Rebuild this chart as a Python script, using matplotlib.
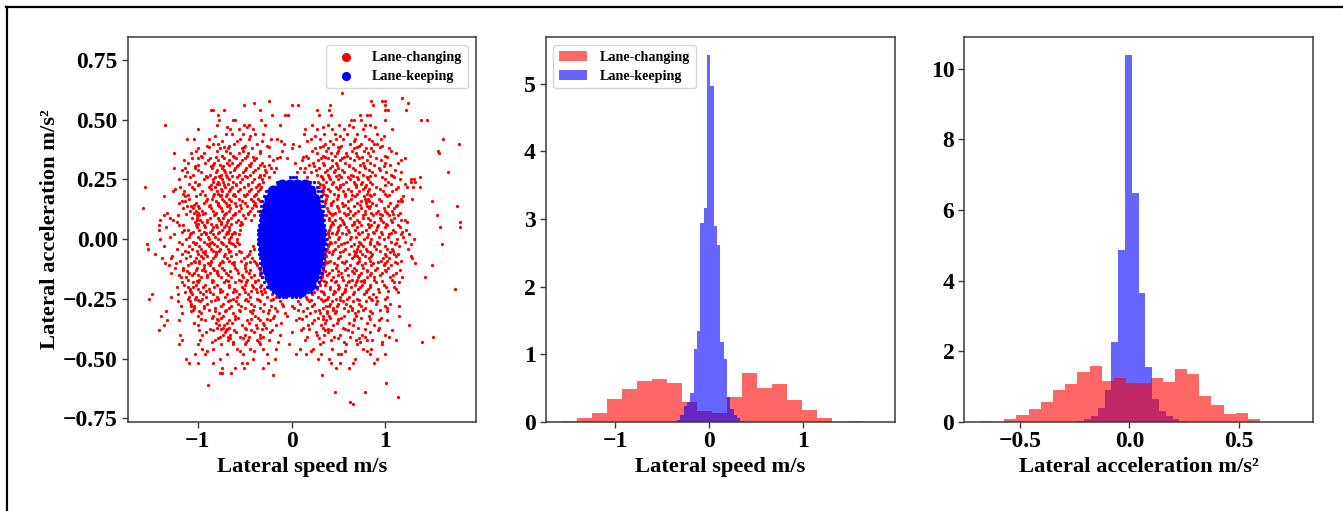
import matplotlib
matplotlib.use("Agg")
import matplotlib.pyplot as plt
import numpy as np
from matplotlib.lines import Line2D

plt.rcParams['font.family'] = ['Liberation Serif', 'DejaVu Serif']
plt.rcParams['font.weight'] = 'bold'
plt.rcParams['axes.labelweight'] = 'bold'

W, H = 1343, 511

# lane-changing scatter, read row by row: one acceleration value, its speeds
lc_y = [0.58, 0.56, 0.54, 0.52, 0.50, 0.48, 0.46, 0.44, 0.42, 0.40, 0.38, 0.36, 0.34, 0.32, 0.30,
        0.28, 0.26, 0.24, 0.22, 0.20, 0.18, 0.16, 0.14, 0.12, 0.10, 0.08, 0.06, 0.04, 0.02, 0.00,
        -0.02, -0.04, -0.06, -0.08, -0.10, -0.12, -0.14, -0.16, -0.18, -0.20, -0.22, -0.24, -0.26, -0.28, -0.30,
        -0.32, -0.34, -0.36, -0.38, -0.40, -0.42, -0.44, -0.46, -0.48, -0.50, -0.52, -0.54]
lc_x = [
    [-0.24, 0.85, 0.96, 0.99],
    [-0.51, 0.01, 0.07, 0.41, 0.87, 1.0],
    [-0.86, -0.83, -0.72, -0.34, 0.27, 0.40, 0.99, 1.03],
    [-0.78, -0.21, -0.07, -0.04, 0.29, 0.42, 0.73, 0.80, 0.84],
    [-0.77, -0.62, -0.60, -0.32, 0.63, 0.67, 0.74, 1.0],
    [-0.79, -0.51, -0.45, -0.28, -0.12, 0.22, 0.39, 0.51, 0.61, 0.78, 0.83],
    [-0.99, -0.65, -0.56, -0.41, 0.14, 0.27, 0.43, 0.56, 0.76, 1.07],
    [-0.70, -0.63, -0.52, -0.39, -0.30, 0.13, 0.35, 0.46, 0.59, 0.70, 0.91],
    [-1.11, -1.04, -0.88, -0.55, -0.45, -0.22, -0.15, 0.21, 0.30, 0.47, 0.55, 0.68, 0.82, 0.95],
    [-0.84, -0.78, -0.61, -0.37, -0.08, 0.02, 0.36, 0.44, 0.62, 0.74, 0.88, 0.91],
    [-0.99, -0.76, -0.68, -0.53, -0.42, 0.00, 0.25, 0.39, 0.51, 0.66, 0.79, 0.85, 1.04],
    [-1.25, -1.07, -0.93, -0.65, -0.56, -0.46, -0.34, 0.27, 0.42, 0.48, 0.58, 0.69, 0.81, 1.11],
    [-1.06, -1.0, -0.87, -0.72, -0.59, -0.50, -0.38, -0.15, -0.05, 0.18, 0.31, 0.39, 0.54, 0.62, 0.72, 0.90, 1.21],
    [-1.10, -0.92, -0.82, -0.69, -0.63, -0.55, -0.43, -0.31, 0.04, 0.23, 0.33, 0.47, 0.57, 0.76, 0.83, 1.0, 1.13],
    [-1.25, -1.13, -1.03, -0.85, -0.74, -0.60, -0.48, -0.36, -0.22, -0.16, 0.09, 0.14, 0.29, 0.41, 0.50, 0.65, 0.78, 0.93],
    [-1.11, -0.96, -0.80, -0.71, -0.65, -0.52, -0.41, -0.27, -0.19, 0.06, 0.13, 0.21, 0.36, 0.45, 0.56, 0.72, 0.86, 1.01, 1.17],
    [-1.08, -0.90, -0.81, -0.76, -0.69, -0.58, -0.47, -0.35, -0.24, 0.17, 0.32, 0.40, 0.53, 0.60, 0.70, 0.80, 0.96, 1.09, 1.37],
    [-1.03, -0.84, -0.78, -0.73, -0.62, -0.55, -0.42, -0.30, 0.28, 0.37, 0.44, 0.58, 0.66, 0.75, 0.83, 1.03, 1.27, 1.31],
    [-1.19, -1.06, -0.88, -0.81, -0.71, -0.63, -0.51, -0.38, -0.32, 0.29, 0.35, 0.47, 0.52, 0.69, 0.78, 0.90, 1.13, 1.23, 1.37],
    [-1.26, -1.14, -0.95, -0.79, -0.74, -0.66, -0.57, -0.45, -0.36, 0.33, 0.41, 0.55, 0.63, 0.72, 0.81, 0.97, 1.07],
    [-1.36, -1.13, -1.02, -0.83, -0.76, -0.70, -0.60, -0.49, -0.40, 0.31, 0.38, 0.50, 0.57, 0.68, 0.77, 0.85, 1.02, 1.19],
    [-1.17, -1.13, -0.91, -0.80, -0.72, -0.64, -0.53, -0.41, -0.34, 0.36, 0.44, 0.60, 0.74, 0.79, 0.82, 0.95, 1.13, 1.17, 1.18],
    [-1.11, -1.07, -1.0, -0.88, -0.77, -0.69, -0.59, -0.47, -0.38, 0.35, 0.48, 0.55, 0.66, 0.80, 0.84, 1.03, 1.11],
    [-1.08, -1.02, -0.95, -0.84, -0.74, -0.67, -0.56, -0.44, -0.36, 0.39, 0.51, 0.62, 0.71, 0.78, 0.92, 1.0, 1.07],
    [-1.36, -1.21, -1.01, -0.98, -0.82, -0.72, -0.62, -0.52, -0.40, 0.37, 0.43, 0.58, 0.65, 0.76, 0.87, 0.96, 1.04, 1.13],
    [-1.40, -1.26, -1.01, -0.97, -0.90, -0.77, -0.68, -0.57, -0.43, 0.40, 0.46, 0.54, 0.70, 0.83, 0.95, 1.06, 1.17, 1.21],
    [-1.41, -1.20, -1.15, -1.02, -0.93, -0.80, -0.70, -0.55, 0.42, 0.52, 0.64, 0.74, 0.85, 0.92, 1.02, 1.13],
    [-1.41, -1.14, -1.10, -0.98, -0.85, -0.74, -0.66, -0.55, 0.40, 0.49, 0.60, 0.68, 0.79, 0.90, 1.08, 1.22],
    [-1.25, -1.08, -0.96, -0.91, -0.83, -0.70, -0.63, -0.56, 0.39, 0.47, 0.58, 0.72, 0.81, 0.96, 1.04, 1.16, 1.25],
    [-1.40, -1.12, -0.97, -0.88, -0.78, -0.66, -0.58, 0.38, 0.50, 0.62, 0.77, 0.85, 0.98, 1.12, 1.30],
    [-1.54, -1.17, -1.03, -0.90, -0.82, -0.73, -0.62, -0.56, 0.40, 0.53, 0.66, 0.74, 0.83, 0.93, 1.10, 1.27],
    [-1.53, -1.22, -1.06, -0.96, -0.86, -0.76, -0.68, -0.40, 0.38, 0.46, 0.57, 0.70, 0.79, 0.90, 1.02, 1.07, 1.24],
    [-1.45, -1.16, -0.99, -0.92, -0.80, -0.71, -0.59, -0.45, 0.36, 0.43, 0.61, 0.68, 0.75, 0.86, 1.0, 1.09, 1.13],
    [-1.38, -1.28, -1.12, -1.02, -0.94, -0.83, -0.69, -0.51, -0.42, 0.35, 0.50, 0.64, 0.72, 0.82, 0.97, 1.04, 1.28],
    [-1.35, -1.23, -1.07, -0.98, -0.89, -0.76, -0.63, -0.48, -0.38, 0.37, 0.45, 0.56, 0.70, 0.78, 0.87, 1.0, 1.12, 1.31],
    [-1.24, -1.15, -1.01, -0.93, -0.84, -0.74, -0.60, -0.50, -0.35, 0.34, 0.47, 0.59, 0.67, 0.76, 0.91, 1.03],
    [-1.28, -1.09, -1.04, -0.87, -0.79, -0.70, -0.57, -0.45, -0.33, 0.30, 0.40, 0.53, 0.66, 0.74, 0.85, 0.96, 1.11],
    [-1.18, -1.12, -0.96, -0.90, -0.75, -0.64, -0.52, -0.43, -0.31, 0.32, 0.44, 0.54, 0.71, 0.80, 0.88, 1.05, 1.18, 1.42],
    [-1.17, -1.05, -0.99, -0.85, -0.72, -0.60, -0.48, -0.39, 0.29, 0.37, 0.46, 0.60, 0.69, 0.77, 0.90, 1.09, 1.14],
    [-1.22, -1.10, -1.05, -0.94, -0.82, -0.66, -0.53, -0.41, -0.33, 0.26, 0.41, 0.51, 0.63, 0.73, 0.84, 1.01, 1.09],
    [-1.13, -1.07, -0.97, -0.87, -0.76, -0.62, -0.49, -0.37, -0.28, 0.24, 0.34, 0.46, 0.56, 0.67, 0.79, 0.93, 1.13],
    [-1.28, -1.09, -1.02, -0.91, -0.79, -0.71, -0.58, -0.44, -0.26, -0.17, 0.15, 0.28, 0.39, 0.52, 0.61, 0.82, 0.90, 1.02],
    [-1.21, -1.08, -0.97, -0.86, -0.68, -0.59, -0.46, -0.34, -0.12, 0.07, 0.19, 0.33, 0.43, 0.55, 0.65, 0.79, 0.91],
    [-1.18, -1.07, -1.04, -0.93, -0.75, -0.64, -0.54, -0.40, -0.22, -0.09, 0.01, 0.22, 0.37, 0.40, 0.48, 0.62, 0.74, 1.0, 1.14],
    [-1.34, -1.07, -0.98, -0.81, -0.71, -0.55, -0.44, -0.30, -0.15, 0.12, 0.25, 0.38, 0.47, 0.60, 0.71, 0.84, 1.02],
    [-1.39, -1.00, -0.84, -0.73, -0.60, -0.39, -0.19, -0.05, 0.15, 0.33, 0.40, 0.56, 0.69, 0.82, 1.14],
    [-1.32, -1.20, -0.92, -0.78, -0.66, -0.47, -0.33, -0.23, 0.05, 0.24, 0.37, 0.50, 0.66, 0.93, 1.02],
    [-1.36, -1.00, -0.77, -0.72, -0.53, -0.38, -0.29, -0.16, 0.18, 0.31, 0.44, 0.65, 0.88, 1.25],
    [-1.41, -0.98, -0.84, -0.70, -0.61, -0.43, -0.21, 0.10, 0.36, 0.42, 0.60, 0.92, 1.07],
    [-1.19, -0.95, -0.73, -0.65, -0.50, -0.34, -0.12, 0.27, 0.35, 0.52, 0.75, 1.0],
    [-1.16, -0.97, -0.81, -0.68, -0.46, -0.37, -0.24, 0.14, 0.42, 0.69, 0.80, 0.86, 1.11],
    [-1.20, -0.99, -0.75, -0.62, -0.50, -0.33, -0.03, 0.30, 0.58, 0.70, 0.96],
    [-0.95, -0.83, -0.58, -0.44, -0.30, -0.16, 0.09, 0.23, 0.43, 0.76, 0.85],
    [-1.03, -0.92, -0.69, -0.52, -0.26, 0.05, 0.15, 0.31, 0.49, 0.53, 0.84, 0.99],
    [-1.12, -0.76, -0.41, -0.18, 0.28, 0.40, 0.68, 0.91],
    [-1.09, -1.0, -0.84, -0.53, -0.47, -0.25, 0.42, 0.52, 0.65, 0.88],
    [-0.74, -0.60, -0.51, -0.30, 0.47, 0.61],
]
# second pass over the dense band, between the rows above
lc2_y = [0.47, 0.43, 0.41, 0.39, 0.37, 0.35, 0.33, 0.31, 0.29, 0.27, 0.25, 0.23, 0.21, 0.19, 0.17, 0.15, 0.13, 0.11, 0.09, 0.07,
         0.05, 0.03, 0.01, -0.01, -0.03, -0.05, -0.07, -0.09, -0.11, -0.13, -0.15, -0.17, -0.19, -0.21, -0.23, -0.25, -0.27,
         -0.29, -0.31, -0.33, -0.35, -0.37, -0.39, -0.41, -0.43, -0.47]
lc2_x = [
    [-0.69, -0.47, 0.33, 0.65, 0.89],
    [-0.81, -0.44, 0.25, 0.52, 0.78, 0.98],
    [-0.74, -0.58, -0.31, -0.11, 0.16, 0.41, 0.66, 0.86],
    [-0.90, -0.66, -0.49, -0.26, 0.08, 0.33, 0.53, 0.72, 0.96],
    [-1.02, -0.79, -0.70, -0.52, -0.33, -0.10, 0.22, 0.37, 0.49, 0.64, 0.77, 0.87, 1.06],
    [-0.96, -0.74, -0.62, -0.47, -0.24, 0.15, 0.34, 0.46, 0.59, 0.70, 0.84, 1.0],
    [-1.14, -0.89, -0.78, -0.66, -0.53, -0.40, -0.20, 0.11, 0.28, 0.43, 0.52, 0.67, 0.80, 0.95, 1.16],
    [-1.00, -0.84, -0.76, -0.67, -0.57, -0.45, -0.33, -0.24, 0.19, 0.35, 0.48, 0.61, 0.73, 0.88, 1.05],
    [-1.16, -0.99, -0.79, -0.72, -0.61, -0.50, -0.39, -0.28, 0.26, 0.38, 0.46, 0.54, 0.68, 0.82, 0.94, 1.10],
    [-1.05, -0.87, -0.75, -0.70, -0.56, -0.44, -0.33, -0.29, 0.27, 0.39, 0.51, 0.63, 0.76, 0.89, 1.06],
    [-1.20, -0.93, -0.83, -0.74, -0.66, -0.53, -0.40, -0.31, 0.33, 0.41, 0.49, 0.62, 0.71, 0.81, 0.99, 1.15, 1.30],
    [-1.09, -0.98, -0.79, -0.77, -0.68, -0.59, -0.46, -0.35, 0.30, 0.43, 0.55, 0.68, 0.74, 0.86, 1.06, 1.21],
    [-1.24, -1.04, -0.86, -0.75, -0.65, -0.55, -0.43, -0.34, 0.33, 0.39, 0.50, 0.60, 0.76, 0.82, 0.94, 1.11],
    [-1.15, -0.97, -0.82, -0.78, -0.69, -0.61, -0.47, -0.38, 0.34, 0.45, 0.57, 0.70, 0.80, 0.88, 1.0],
    [-1.09, -0.90, -0.85, -0.74, -0.66, -0.56, -0.43, -0.36, 0.37, 0.48, 0.63, 0.78, 0.81, 0.93, 1.16, 1.28],
    [-1.20, -1.02, -0.93, -0.78, -0.70, -0.60, -0.50, -0.39, 0.36, 0.42, 0.54, 0.70, 0.79, 0.86, 1.05],
    [-1.15, -1.05, -0.98, -0.86, -0.75, -0.65, -0.54, -0.42, 0.38, 0.50, 0.60, 0.74, 0.82, 0.98, 1.09],
    [-1.32, -1.04, -0.99, -0.92, -0.80, -0.70, -0.60, -0.46, 0.41, 0.46, 0.56, 0.68, 0.85, 0.90, 1.02, 1.15],
    [-1.29, -1.06, -1.01, -0.87, -0.78, -0.73, -0.64, -0.50, 0.40, 0.52, 0.62, 0.76, 0.81, 0.94, 1.09],
    [-1.22, -1.03, -0.95, -0.90, -0.75, -0.69, -0.59, -0.54, 0.43, 0.55, 0.67, 0.72, 0.88, 0.97, 1.07, 1.23],
    [-1.34, -1.01, -0.92, -0.84, -0.79, -0.72, -0.66, 0.41, 0.50, 0.58, 0.70, 0.82, 0.91, 1.0, 1.15],
    [-1.17, -1.05, -0.93, -0.87, -0.77, -0.69, -0.61, 0.39, 0.48, 0.61, 0.75, 0.87, 0.95, 1.10, 1.18],
    [-1.29, -1.09, -0.99, -0.89, -0.81, -0.72, -0.64, 0.40, 0.51, 0.63, 0.69, 0.80, 0.93, 1.03, 1.19],
    [-1.20, -1.05, -0.93, -0.85, -0.75, -0.67, -0.58, 0.41, 0.46, 0.59, 0.72, 0.84, 0.91, 1.06, 1.21],
    [-1.36, -1.09, -0.98, -0.88, -0.79, -0.70, -0.60, -0.41, 0.39, 0.49, 0.63, 0.71, 0.76, 0.88, 0.99, 1.14],
    [-1.13, -1.01, -0.92, -0.84, -0.77, -0.65, -0.56, -0.44, 0.37, 0.44, 0.55, 0.66, 0.73, 0.80, 0.94, 1.08],
    [-1.27, -1.08, -0.96, -0.90, -0.81, -0.72, -0.64, -0.47, 0.37, 0.52, 0.67, 0.70, 0.78, 0.85, 1.01, 1.11, 1.27],
    [-1.19, -1.04, -0.98, -0.86, -0.74, -0.66, -0.54, -0.40, 0.36, 0.41, 0.58, 0.72, 0.83, 0.95, 1.02, 1.17],
    [-1.30, -1.10, -0.93, -0.87, -0.77, -0.61, -0.49, -0.37, 0.35, 0.48, 0.62, 0.75, 0.85, 0.98, 1.06],
    [-1.15, -1.02, -0.95, -0.82, -0.72, -0.58, -0.44, -0.34, 0.33, 0.43, 0.57, 0.69, 0.80, 0.89, 1.0, 1.15],
    [-1.20, -1.06, -1.00, -0.90, -0.78, -0.68, -0.53, -0.40, -0.34, 0.32, 0.38, 0.50, 0.60, 0.72, 0.83, 0.94, 1.08],
    [-1.10, -0.98, -0.85, -0.70, -0.56, -0.47, -0.36, 0.31, 0.42, 0.55, 0.64, 0.70, 0.77, 0.88, 1.07],
    [-1.14, -1.02, -0.92, -0.79, -0.66, -0.50, -0.42, -0.32, 0.30, 0.36, 0.49, 0.58, 0.68, 0.75, 0.83, 0.98],
    [-1.08, -1.00, -0.88, -0.76, -0.61, -0.51, -0.38, -0.29, 0.27, 0.41, 0.50, 0.57, 0.71, 0.81, 0.92, 1.11],
    [-1.21, -1.06, -0.94, -0.83, -0.69, -0.56, -0.46, -0.31, -0.21, 0.22, 0.35, 0.44, 0.54, 0.65, 0.77, 0.87],
    [-1.10, -1.03, -0.95, -0.78, -0.62, -0.48, -0.37, -0.20, 0.16, 0.31, 0.38, 0.47, 0.59, 0.70, 0.85, 1.0],
    [-1.07, -0.90, -0.73, -0.57, -0.43, -0.29, -0.10, 0.09, 0.24, 0.41, 0.50, 0.58, 0.72, 0.90, 1.05],
    [-1.04, -0.93, -0.81, -0.66, -0.50, -0.33, -0.18, 0.03, 0.17, 0.34, 0.44, 0.56, 0.64, 0.78, 1.02],
    [-1.17, -0.96, -0.77, -0.62, -0.42, -0.25, -0.07, 0.20, 0.30, 0.38, 0.46, 0.68, 0.86],
    [-0.85, -0.75, -0.57, -0.36, -0.20, 0.08, 0.28, 0.41, 0.53, 0.74, 0.95],
    [-1.04, -0.80, -0.69, -0.63, -0.45, -0.30, -0.11, 0.22, 0.36, 0.48, 0.61, 0.80],
    [-0.79, -0.73, -0.66, -0.49, -0.37, -0.27, 0.12, 0.34, 0.55, 0.71, 0.93],
    [-0.91, -0.71, -0.59, -0.40, -0.23, 0.00, 0.26, 0.39, 0.64, 0.83],
    [-0.76, -0.68, -0.55, -0.45, -0.30, 0.16, 0.45, 0.62, 0.78, 1.04],
    [-0.85, -0.62, -0.48, -0.35, -0.14, 0.33, 0.56, 0.73, 0.96],
    [-0.90, -0.55, -0.40, 0.21, 0.57, 0.80],
]
# third pass, only the thickest parts of the band
lc3_y = [0.385, 0.345, 0.305, 0.265, 0.225, 0.185, 0.145, 0.105, 0.065, 0.025, -0.015, -0.055, -0.095, -0.135,
         -0.175, -0.215, -0.255, -0.295, -0.335, -0.375, -0.415]
lc3_x = [
    [-0.88, -0.72, -0.51, -0.24, 0.30, 0.49, 0.70, 0.94],
    [-0.95, -0.80, -0.61, -0.41, -0.12, 0.12, 0.36, 0.56, 0.75, 1.02],
    [-1.03, -0.86, -0.73, -0.58, -0.44, -0.29, 0.24, 0.43, 0.61, 0.77, 0.98],
    [-1.13, -0.91, -0.77, -0.63, -0.49, -0.33, 0.31, 0.47, 0.65, 0.84, 1.08],
    [-1.00, -0.86, -0.72, -0.59, -0.46, -0.36, 0.34, 0.52, 0.69, 0.79, 0.99],
    [-1.10, -0.92, -0.75, -0.62, -0.51, -0.39, 0.37, 0.49, 0.64, 0.83, 1.04],
    [-1.04, -0.87, -0.78, -0.66, -0.55, -0.40, 0.42, 0.57, 0.73, 0.90, 1.12],
    [-1.12, -0.94, -0.81, -0.71, -0.60, -0.46, 0.44, 0.60, 0.78, 0.94, 1.08],
    [-1.00, -0.86, -0.75, -0.64, -0.53, 0.44, 0.56, 0.67, 0.81, 1.01],
    [-1.07, -0.91, -0.78, -0.68, -0.60, 0.43, 0.54, 0.71, 0.88, 1.06],
    [-1.02, -0.87, -0.74, -0.64, 0.42, 0.56, 0.73, 0.91, 1.11],
    [-1.10, -0.94, -0.80, -0.66, -0.54, 0.40, 0.52, 0.69, 0.84, 1.05],
    [-1.03, -0.86, -0.73, -0.61, -0.44, 0.39, 0.54, 0.71, 0.92, 1.10],
    [-1.11, -0.92, -0.79, -0.65, -0.48, 0.36, 0.50, 0.64, 0.80, 1.01],
    [-1.01, -0.83, -0.68, -0.54, -0.39, 0.35, 0.47, 0.61, 0.74, 0.96],
    [-1.08, -0.91, -0.74, -0.59, -0.43, -0.32, 0.31, 0.45, 0.57, 0.79, 1.03],
    [-0.99, -0.81, -0.65, -0.50, -0.35, -0.22, 0.21, 0.36, 0.52, 0.72, 0.86],
    [-1.05, -0.88, -0.70, -0.56, -0.41, -0.24, 0.07, 0.29, 0.44, 0.64, 0.76, 0.94],
    [-0.96, -0.79, -0.60, -0.43, -0.26, 0.11, 0.34, 0.49, 0.67, 0.83],
    [-0.87, -0.75, -0.69, -0.48, -0.31, 0.19, 0.39, 0.57, 0.78],
    [-0.78, -0.65, -0.52, -0.34, 0.29, 0.49, 0.72],
]
# the loose points outside the rows
lc_outlier_x = [-1.58, -1.56, -1.35, 0.54, 1.18, 1.24, 1.22, 1.38, 1.44, 1.61, 1.78, 1.56, 1.57, 1.67, 1.76, 1.79, 1.79, 1.55,
                1.58, 1.60, 1.49, 1.49, 1.74, 1.39, 1.51, 1.01, 1.13, 0.78, 0.46, 0.62, 0.65, 0.32, -0.20, -0.89, -0.76,
                -0.74, -0.64, -1.52, -1.48, -0.40, 1.27, 1.29]
lc_outlier_y = [0.13, 0.22, 0.48, 0.61, 0.59, 0.57, 0.54, 0.50, 0.50, 0.42, 0.40, 0.37, 0.36, 0.28, 0.14, 0.07, 0.05, 0.10,
                0.05, -0.02, 0.16, -0.11, -0.21, -0.43, -0.41, -0.60, -0.66, -0.64, -0.64, -0.68, -0.69, -0.57, -0.57,
                -0.61, -0.56, -0.56, -0.56, -0.25, -0.23, 0.57, 0.25, 0.22]

# lane-keeping cloud: rim rows and a coarse set for the dense middle
lk_y = [0.26, 0.24, 0.22, 0.20, 0.18, 0.16, 0.14, 0.12, 0.10, 0.08, 0.06, 0.04, 0.02, 0.00, -0.02, -0.04, -0.06, -0.08,
        -0.10, -0.12, -0.14, -0.16, -0.18, -0.20, -0.22, -0.24]
lk_x = [
    [-0.02, 0.02, 0.05],
    [-0.15, -0.10, -0.05, -0.01, 0.04, 0.09, 0.14, 0.20, 0.24],
    [-0.21, -0.17, -0.12, -0.06, 0.00, 0.07, 0.12, 0.18, 0.23, 0.27],
    [-0.27, -0.23, -0.18, -0.13, 0.13, 0.19, 0.24, 0.28, 0.31],
    [-0.29, -0.25, -0.20, -0.15, 0.17, 0.22, 0.27, 0.31],
    [-0.31, -0.27, -0.23, -0.18, 0.19, 0.24, 0.29, 0.32],
    [-0.32, -0.28, -0.24, 0.22, 0.27, 0.31, 0.33],
    [-0.33, -0.30, -0.26, 0.23, 0.28, 0.32, 0.34],
    [-0.34, -0.31, -0.27, 0.25, 0.30, 0.34],
    [-0.34, -0.31, -0.28, 0.26, 0.31, 0.35],
    [-0.35, -0.32, -0.28, 0.27, 0.32, 0.35],
    [-0.36, -0.32, -0.29, 0.27, 0.32, 0.36],
    [-0.36, -0.33, -0.29, 0.28, 0.33, 0.36],
    [-0.36, -0.33, -0.29, 0.28, 0.33, 0.37],
    [-0.36, -0.33, -0.29, 0.28, 0.33, 0.37],
    [-0.35, -0.32, -0.28, 0.27, 0.32, 0.36],
    [-0.35, -0.32, -0.28, 0.27, 0.32, 0.35],
    [-0.34, -0.31, -0.27, 0.26, 0.31, 0.35],
    [-0.33, -0.30, -0.26, 0.25, 0.30, 0.34],
    [-0.33, -0.29, -0.25, 0.24, 0.29, 0.33],
    [-0.32, -0.28, -0.24, 0.22, 0.27, 0.32],
    [-0.31, -0.27, -0.22, 0.21, 0.26, 0.30],
    [-0.29, -0.25, -0.20, 0.19, 0.24, 0.29],
    [-0.26, -0.22, -0.17, -0.11, 0.10, 0.16, 0.21, 0.27],
    [-0.20, -0.16, -0.12, -0.07, -0.02, 0.03, 0.08, 0.13, 0.18, 0.21],
    [-0.13, -0.09, -0.06, 0.00, 0.05, 0.09],
]
lk_core_y = [0.225, 0.20, 0.17, 0.14, 0.11, 0.08, 0.05, 0.02, -0.01, -0.04, -0.07, -0.10, -0.13, -0.16, -0.19, -0.215]
lk_core_x = [
    [-0.10, -0.02, 0.06, 0.14],
    [-0.20, -0.12, -0.04, 0.04, 0.12, 0.20],
    [-0.23, -0.15, -0.07, 0.01, 0.09, 0.17, 0.24],
    [-0.25, -0.17, -0.09, -0.01, 0.07, 0.15, 0.25],
    [-0.27, -0.19, -0.11, -0.03, 0.05, 0.13, 0.21, 0.27],
    [-0.28, -0.20, -0.12, -0.04, 0.04, 0.12, 0.20, 0.28],
    [-0.29, -0.21, -0.13, -0.05, 0.03, 0.11, 0.19, 0.29],
    [-0.30, -0.22, -0.14, -0.06, 0.02, 0.10, 0.18, 0.26, 0.30],
    [-0.30, -0.22, -0.14, -0.06, 0.02, 0.10, 0.18, 0.26, 0.30],
    [-0.29, -0.21, -0.13, -0.05, 0.03, 0.11, 0.19, 0.29],
    [-0.28, -0.20, -0.12, -0.04, 0.04, 0.12, 0.20, 0.28],
    [-0.27, -0.19, -0.11, -0.03, 0.05, 0.13, 0.21, 0.27],
    [-0.25, -0.17, -0.09, -0.01, 0.07, 0.15, 0.25],
    [-0.23, -0.15, -0.07, 0.01, 0.09, 0.17, 0.23],
    [-0.20, -0.12, -0.04, 0.04, 0.12, 0.20],
    [-0.12, -0.04, 0.04, 0.10],
]

# histograms, density per bin
speed_lc_range = (-1.57, 1.63)
speed_lc = [0.01, 0.05, 0.13, 0.335, 0.48, 0.605, 0.625, 0.58, 0.285, 0.155, 0.135, 0.37, 0.725, 0.50, 0.565, 0.32,
            0.18, 0.06, 0.0, 0.01]
speed_lk_range = (-0.344, 0.367)
speed_lk = [0.025, 0.10, 0.235, 0.285, 0.43, 1.07, 1.345, 2.94, 3.17, 5.43, 4.97, 2.90, 2.61, 1.18, 0.935, 0.36,
            0.19, 0.10, 0.05, 0.01]
acc_lc_range = (-0.685, 0.599)
acc_lc = [0.02, 0.0, 0.07, 0.19, 0.36, 0.55, 0.885, 1.08, 1.42, 1.57, 1.15, 1.23, 1.10, 1.11, 1.25, 1.12, 1.50, 1.34,
          0.72, 0.46, 0.22, 0.24, 0.07]
acc_lk_range = (-0.2385, 0.26)
acc_lk = [0.03, 0.07, 0.16, 0.38, 0.90, 2.26, 4.87, 10.4, 6.47, 3.65, 1.55, 0.65, 0.29, 0.16, 0.07, 0.03]

labels = ['Lane-changing', 'Lane-keeping']
speed_label = 'Lateral speed m/s'
acc_label = 'Lateral acceleration m/s²'


def add_axes_px(left, right, top=37.3, bottom=421.7):
    return fig.add_axes([left / W, 1 - bottom / H, (right - left) / W, (bottom - top) / H])


def style(ax):
    for s in ax.spines.values():
        s.set_color('#3a3a3a')
        s.set_linewidth(1.1)
    ax.tick_params(labelsize=17, length=4, width=1, color='#3a3a3a', pad=3)


def bars(ax, values, rng, color, label=None):
    edges = np.linspace(rng[0], rng[1], len(values) + 1)
    ax.bar(edges[:-1], values, width=np.diff(edges), align='edge', color=color, alpha=0.6, label=label)


def rows_to_xy(ys, rows):
    x, y = [], []
    for v, row in zip(ys, rows):
        x += row
        y += [v] * len(row)
    return x, y


fig = plt.figure(figsize=(W / 100, H / 100), dpi=100, facecolor='white')

# frame round the whole picture, only top and left are visible
fig.add_artist(Line2D([6.7 / W, 6.7 / W], [0, 1 - 7.5 / H], color='black', lw=1.6))
fig.add_artist(Line2D([6 / W, 1], [1 - 7.5 / H, 1 - 7.5 / H], color='black', lw=1.6))

ax1 = add_axes_px(127.5, 476)
x_lc, y_lc = rows_to_xy(lc_y, lc_x)
x2_lc, y2_lc = rows_to_xy(lc2_y, lc2_x)
x3_lc, y3_lc = rows_to_xy(lc3_y, lc3_x)
ax1.scatter(x_lc + x2_lc + x3_lc + lc_outlier_x, y_lc + y2_lc + y3_lc + lc_outlier_y, s=5.5, c='red', linewidths=0,
            label=labels[0])
x_lk, y_lk = rows_to_xy(lk_y, lk_x)
ax1.scatter(x_lk, y_lk, s=5.5, c='blue', linewidths=0, label=labels[1])
core_x, core_y = rows_to_xy(lk_core_y, lk_core_x)
ax1.scatter(core_x, core_y, s=75, c='blue', linewidths=0)
ax1.set_xlim(-1.745, 1.963)
ax1.set_ylim(-0.764, 0.845)
ax1.set_xticks([-1, 0, 1])
ax1.set_yticks([-0.75, -0.5, -0.25, 0, 0.25, 0.5, 0.75])
ax1.set_xlabel(speed_label, fontsize=16.2, labelpad=3)
ax1.set_ylabel(acc_label, fontsize=16.2, labelpad=2)
style(ax1)
ax1.legend(loc='upper right', markerscale=2.8, handletextpad=0.87, labelspacing=0.42,
           borderaxespad=0.55, prop={'size': 10.2, 'weight': 'bold'})

ax2 = add_axes_px(545.7, 894.7)
bars(ax2, speed_lc, speed_lc_range, 'red', labels[0])
bars(ax2, speed_lk, speed_lk_range, 'blue', labels[1])
ax2.set_xlim(-1.74, 1.972)
ax2.set_ylim(0, 5.69)
ax2.set_xticks([-1, 0, 1])
ax2.set_yticks([0, 1, 2, 3, 4, 5])
ax2.set_xlabel(speed_label, fontsize=16.2, labelpad=3)
style(ax2)
ax2.legend(loc='upper left', handletextpad=0.87, labelspacing=0.42, borderaxespad=0.55,
           prop={'size': 10.2, 'weight': 'bold'})

ax3 = add_axes_px(964, 1313)
bars(ax3, acc_lk, acc_lk_range, 'blue')
bars(ax3, acc_lc, acc_lc_range, 'red')
ax3.set_xlim(-0.758, 0.841)
ax3.set_ylim(0, 10.89)
ax3.set_xticks([-0.5, 0, 0.5])
ax3.set_yticks([0, 2, 4, 6, 8, 10])
ax3.set_xlabel(acc_label, fontsize=16.2, labelpad=3)
style(ax3)

fig.savefig('out.png', dpi=100)
